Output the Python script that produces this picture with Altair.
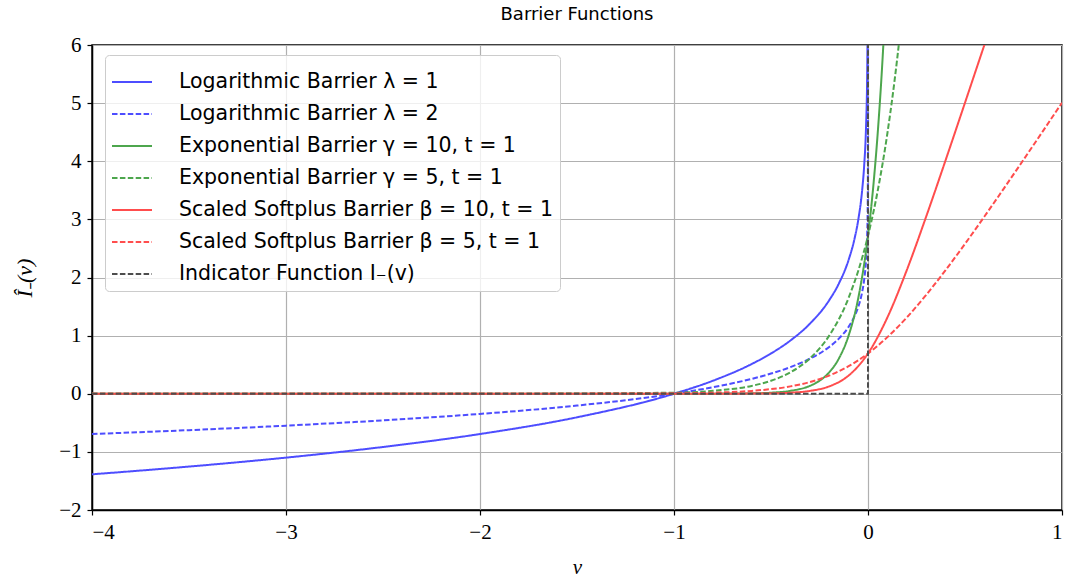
import altair as alt
import pandas as pd

# ---- data ----
series_names = [
    "Logarithmic Barrier λ = 1",
    "Logarithmic Barrier λ = 2",
    "Exponential Barrier γ = 10, t = 1",
    "Exponential Barrier γ = 5, t = 1",
    "Scaled Softplus Barrier β = 10, t = 1",
    "Scaled Softplus Barrier β = 5, t = 1",
    "Indicator Function I₋(v)",
]
series_colors = ["#4d4dff", "#4d4dff", "#4da64d", "#4da64d", "#ff4d4d", "#ff4d4d", "#4d4d4d"]
series_dash = [[1, 0], [5.5, 2.4], [1, 0], [5.5, 2.4], [1, 0], [5.5, 2.4], [5.5, 2.4]]

log1_x = [-4, -3.5, -3, -2.5, -2, -1.5, -1, -0.8, -0.6, -0.5, -0.4, -0.3, -0.2, -0.15, -0.1,
          -0.07, -0.05, -0.03, -0.02, -0.01, -0.005, -0.002]
log1_y = [-1.386, -1.253, -1.099, -0.916, -0.693, -0.405, 0.0, 0.223, 0.511, 0.693, 0.916, 1.204,
          1.609, 1.897, 2.303, 2.659, 2.996, 3.507, 3.912, 4.605, 5.298, 6.215]

log2_x = [-4, -3.5, -3, -2.5, -2, -1.5, -1, -0.8, -0.6, -0.5, -0.4, -0.3, -0.2, -0.15, -0.1,
          -0.07, -0.05, -0.03, -0.02, -0.01, -0.005, -0.002, -0.001, -0.0001, -0.00001, -0.000004]
log2_y = [-0.693, -0.626, -0.549, -0.458, -0.347, -0.203, 0.0, 0.112, 0.255, 0.347, 0.458, 0.602,
          0.805, 0.949, 1.151, 1.330, 1.498, 1.753, 1.956, 2.303, 2.649, 3.107, 3.454, 4.605, 5.756, 6.21]

exp10_x = [-4, -2, -1, -0.6, -0.5, -0.4, -0.3, -0.25, -0.2, -0.15, -0.1, -0.05, 0.0, 0.03, 0.05, 0.07, 0.085]
exp10_y = [0.0, 0.0, 0.0003, 0.0067, 0.018, 0.050, 0.135, 0.223, 0.368, 0.607, 1.0, 1.649, 2.718,
           3.669, 4.482, 5.474, 6.36]

exp5_x = [-4, -2, -1, -0.8, -0.6, -0.5, -0.4, -0.3, -0.2, -0.1, 0.0, 0.05, 0.1, 0.15, 0.17]
exp5_y = [0.0, 0.0001, 0.018, 0.050, 0.135, 0.223, 0.368, 0.607, 1.0, 1.649, 2.718, 3.49, 4.482, 5.75, 6.35]

sp10_x = [-4, -1, -0.6, -0.5, -0.4, -0.3, -0.2, -0.1, 0.0, 0.1, 0.2, 0.3, 0.4, 0.5, 0.6, 0.62]
sp10_y = [0.0, 0.00005, 0.0025, 0.0067, 0.018, 0.049, 0.127, 0.313, 0.693, 1.313, 2.127, 3.049,
          4.018, 5.007, 6.002, 6.2]

sp5_x = [-4, -2, -1, -0.8, -0.6, -0.4, -0.3, -0.2, -0.1, 0.0, 0.1, 0.2, 0.3, 0.4, 0.5, 0.6, 0.7, 0.8, 0.9, 1.0]
sp5_y = [0.0, 0.00005, 0.0067, 0.018, 0.049, 0.127, 0.201, 0.313, 0.474, 0.693, 0.974, 1.313, 1.701,
         2.127, 2.579, 3.049, 3.530, 4.018, 4.511, 5.007]

ind_x = [-4, 0, 0]
ind_y = [0, 0, 6.5]

curves = [
    (series_names[0], log1_x, log1_y),
    (series_names[1], log2_x, log2_y),
    (series_names[2], exp10_x, exp10_y),
    (series_names[3], exp5_x, exp5_y),
    (series_names[4], sp10_x, sp10_y),
    (series_names[5], sp5_x, sp5_y),
]

rows = []
for name, xs, ys in curves:
    for i, (xv, yv) in enumerate(zip(xs, ys)):
        rows.append({"series": name, "v": xv, "val": yv, "idx": i})
curve_df = pd.DataFrame(rows)
ind_df = pd.DataFrame({"series": series_names[6], "v": ind_x, "val": ind_y, "idx": list(range(len(ind_x)))})

serif = "Liberation Serif"
sans = "DejaVu Sans"

x_enc = alt.X("v:Q", scale=alt.Scale(domain=[-4, 1], nice=False, zero=False),
              axis=alt.Axis(values=[-4, -3, -2, -1, 0, 1], title="v", titleFontStyle="italic",
                            titleFont=serif, titleFontSize=21, titleFontWeight="normal",
                            titlePadding=14, labelPadding=6))
y_enc = alt.Y("val:Q", scale=alt.Scale(domain=[-2, 6], nice=False, zero=False),
              axis=alt.Axis(values=[-2, -1, 0, 1, 2, 3, 4, 5, 6], title="Î₋(v)", titleFontStyle="italic",
                            titleFont=serif, titleFontSize=22, titleFontWeight="normal",
                            titlePadding=22, labelPadding=6))
color_enc = alt.Color("series:N", scale=alt.Scale(domain=series_names, range=series_colors),
                      legend=alt.Legend(title=None, orient="none", legendX=13, legendY=10,
                                        symbolType="stroke", symbolSize=1600, symbolStrokeWidth=2,
                                        labelFont=sans, labelFontSize=20.5, labelColor="black",
                                        rowPadding=-1, padding=6, labelOffset=26,
                                        fillColor="rgba(255,255,255,0.8)", strokeColor="#cccccc",
                                        cornerRadius=4, labelLimit=600))
dash_enc = alt.StrokeDash("series:N", scale=alt.Scale(domain=series_names, range=series_dash), legend=None)

curves_layer = alt.Chart(curve_df).mark_line(clip=True, strokeWidth=2, interpolate="monotone").encode(
    x=x_enc, y=y_enc, color=color_enc, strokeDash=dash_enc, order="idx:Q", detail="series:N")
ind_layer = alt.Chart(ind_df).mark_line(clip=True, strokeWidth=2).encode(
    x=x_enc, y=y_enc, color=color_enc, strokeDash=dash_enc, order="idx:Q")

chart = alt.layer(curves_layer, ind_layer).properties(
    width=970, height=465,
    title=alt.TitleParams("Barrier Functions", font=sans, fontSize=18, fontWeight="normal",
                          color="black", offset=10, anchor="middle"),
    autosize=alt.AutoSizeParams(type="none"),
    padding={"left": 92, "top": 45, "right": 8, "bottom": 71},
).configure_axis(
    labelFont=serif, labelFontSize=21, labelColor="black",
    domainColor="black", domainWidth=1.5, tickColor="black", tickSize=5, tickWidth=1.2,
    grid=True, gridColor="#b0b0b0", gridWidth=1.2,
).configure_view(stroke="black", strokeWidth=1.5)

chart.save("out.html", embed_options={"renderer": "svg", "actions": False})
